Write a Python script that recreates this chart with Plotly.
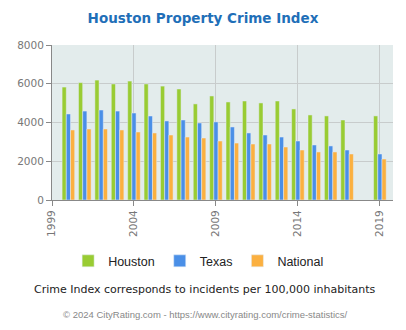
import plotly.graph_objects as go

years = [2000, 2001, 2002, 2003, 2004, 2005, 2006, 2007, 2008, 2009,
         2010, 2011, 2012, 2013, 2014, 2015, 2016, 2017, 2019]
houston = [5830, 6060, 6190, 5990, 6140, 5990, 5880, 5730, 4960, 5370,
           5060, 5110, 5010, 5110, 4700, 4390, 4340, 4130, 4340]
texas = [4440, 4590, 4645, 4590, 4490, 4335, 4080, 4130, 3975, 4030,
         3770, 3460, 3355, 3250, 3045, 2840, 2790, 2580, 2375]
national = [3615, 3665, 3665, 3615, 3510, 3460, 3355, 3250, 3200, 3045,
            2940, 2890, 2890, 2735, 2580, 2480, 2480, 2375, 2115]
tick_years = [1999, 2004, 2009, 2014, 2019]

fig = go.Figure()
fig.add_trace(go.Bar(x=years, y=houston, name="Houston", marker_color="#99cc33"))
fig.add_trace(go.Bar(x=years, y=texas, name="Texas", marker_color="#4a8fe7"))
fig.add_trace(go.Bar(x=years, y=national, name="National", marker_color="#fbb040"))

fig.update_layout(
    width=406, height=330,
    margin=dict(l=52, r=13, t=45, b=130),
    paper_bgcolor="white",
    plot_bgcolor="#e3ecec",
    barmode="group",
    bargap=0.23,
    bargroupgap=0,
    title=dict(text="<b>Houston Property Crime Index</b>", x=0.5, xanchor="center",
               y=0.945, yanchor="middle",
               font=dict(family="DejaVu Sans", size=13.5, color="#1f6fb8")),
    showlegend=True,
    legend=dict(orientation="h", x=0.43, xanchor="center", y=-0.395, yanchor="middle",
                font=dict(family="Liberation Sans", size=12.5, color="#222"),
                itemwidth=30, traceorder="normal"),
    font=dict(family="DejaVu Sans", color="#666"),
)
fig.update_xaxes(range=[1999, 2019.8], tickvals=tick_years, ticktext=[str(t) for t in tick_years],
                 tickangle=-90, ticks="outside", ticklen=5, tickcolor="#888",
                 showgrid=True, gridcolor="#c8cccc", gridwidth=1,
                 showline=True, linecolor="#888", linewidth=1,
                 tickfont=dict(size=10.5, color="#777", family="DejaVu Sans"), zeroline=False)
fig.update_yaxes(range=[0, 8000], tickvals=[0, 2000, 4000, 6000, 8000],
                 ticks="outside", ticklen=5, tickcolor="#888",
                 showgrid=True, gridcolor="#c8cccc", gridwidth=1,
                 showline=True, linecolor="#888", linewidth=1,
                 tickfont=dict(size=10.5, color="#777", family="DejaVu Sans"), zeroline=False)

fig.add_annotation(text="Crime Index corresponds to incidents per 100,000 inhabitants",
                   xref="paper", yref="paper", x=0.45, y=-0.575, xanchor="center", yanchor="middle",
                   showarrow=False, font=dict(family="DejaVu Sans", size=11, color="#222"))
fig.add_annotation(text="© 2024 CityRating.com - https://www.cityrating.com/crime-statistics/",
                   xref="paper", yref="paper", x=0.45, y=-0.74, xanchor="center", yanchor="middle",
                   showarrow=False, font=dict(family="Liberation Sans", size=9.5, color="#888"))

fig.write_html("out.html")
